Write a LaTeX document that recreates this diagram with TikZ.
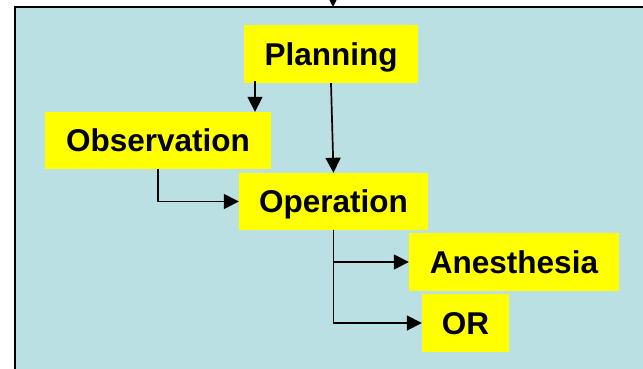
\documentclass[tikz,border=0pt]{standalone}
\usepackage{fontspec}
\setmainfont{Liberation Sans}
\usetikzlibrary{arrows.meta,calc}
\definecolor{bgblue}{RGB}{186,224,227}
\definecolor{boxyellow}{RGB}{255,255,0}
\tikzset{
  box/.style={fill=boxyellow, inner sep=0pt, text height=22.5pt, text depth=-3pt,
    font=\fontsize{31.5pt}{34pt}\selectfont\bfseries, anchor=center},
  arr/.style={draw=black, line width=1.7pt, -{Triangle[length=15pt,width=15pt]}},
}
\begin{document}
\begin{tikzpicture}[x=1pt,y=-1pt]
\useasboundingbox (0,0) rectangle (643,368);
\begin{scope}
\clip (0,0) rectangle (643,368);
\draw[line width=1.8pt, fill=bgblue] (15,7) rectangle (680,400);
\coordinate (topin) at (333,-20);
\coordinate (topend) at (333,7);
\draw[arr] (topin) -- (topend);
\end{scope}
\node[box, minimum width=174pt, minimum height=58pt] (plan) at (331,54) {Planning};
\node[box, minimum width=226pt, minimum height=57pt] (obs) at (158,140.5) {Observation};
\node[box, minimum width=189pt, minimum height=57pt] (op) at (333.5,201.5) {Operation};
\node[box, minimum width=210pt, minimum height=58pt] (anes) at (514,262) {Anesthesia};
\node[box, minimum width=87pt, minimum height=58pt] (or) at (465.5,323) {OR};
\coordinate (p1) at (255,81);
\draw[arr] (p1) -- (p1 |- obs.north);
\draw[arr] (plan.south) -- (op.north);
\draw[arr] (obs.south) |- (op.west);
\draw[arr] (op.south) |- (anes.west);
\draw[arr] (op.south) |- (or.west);
\end{tikzpicture}
\end{document}
